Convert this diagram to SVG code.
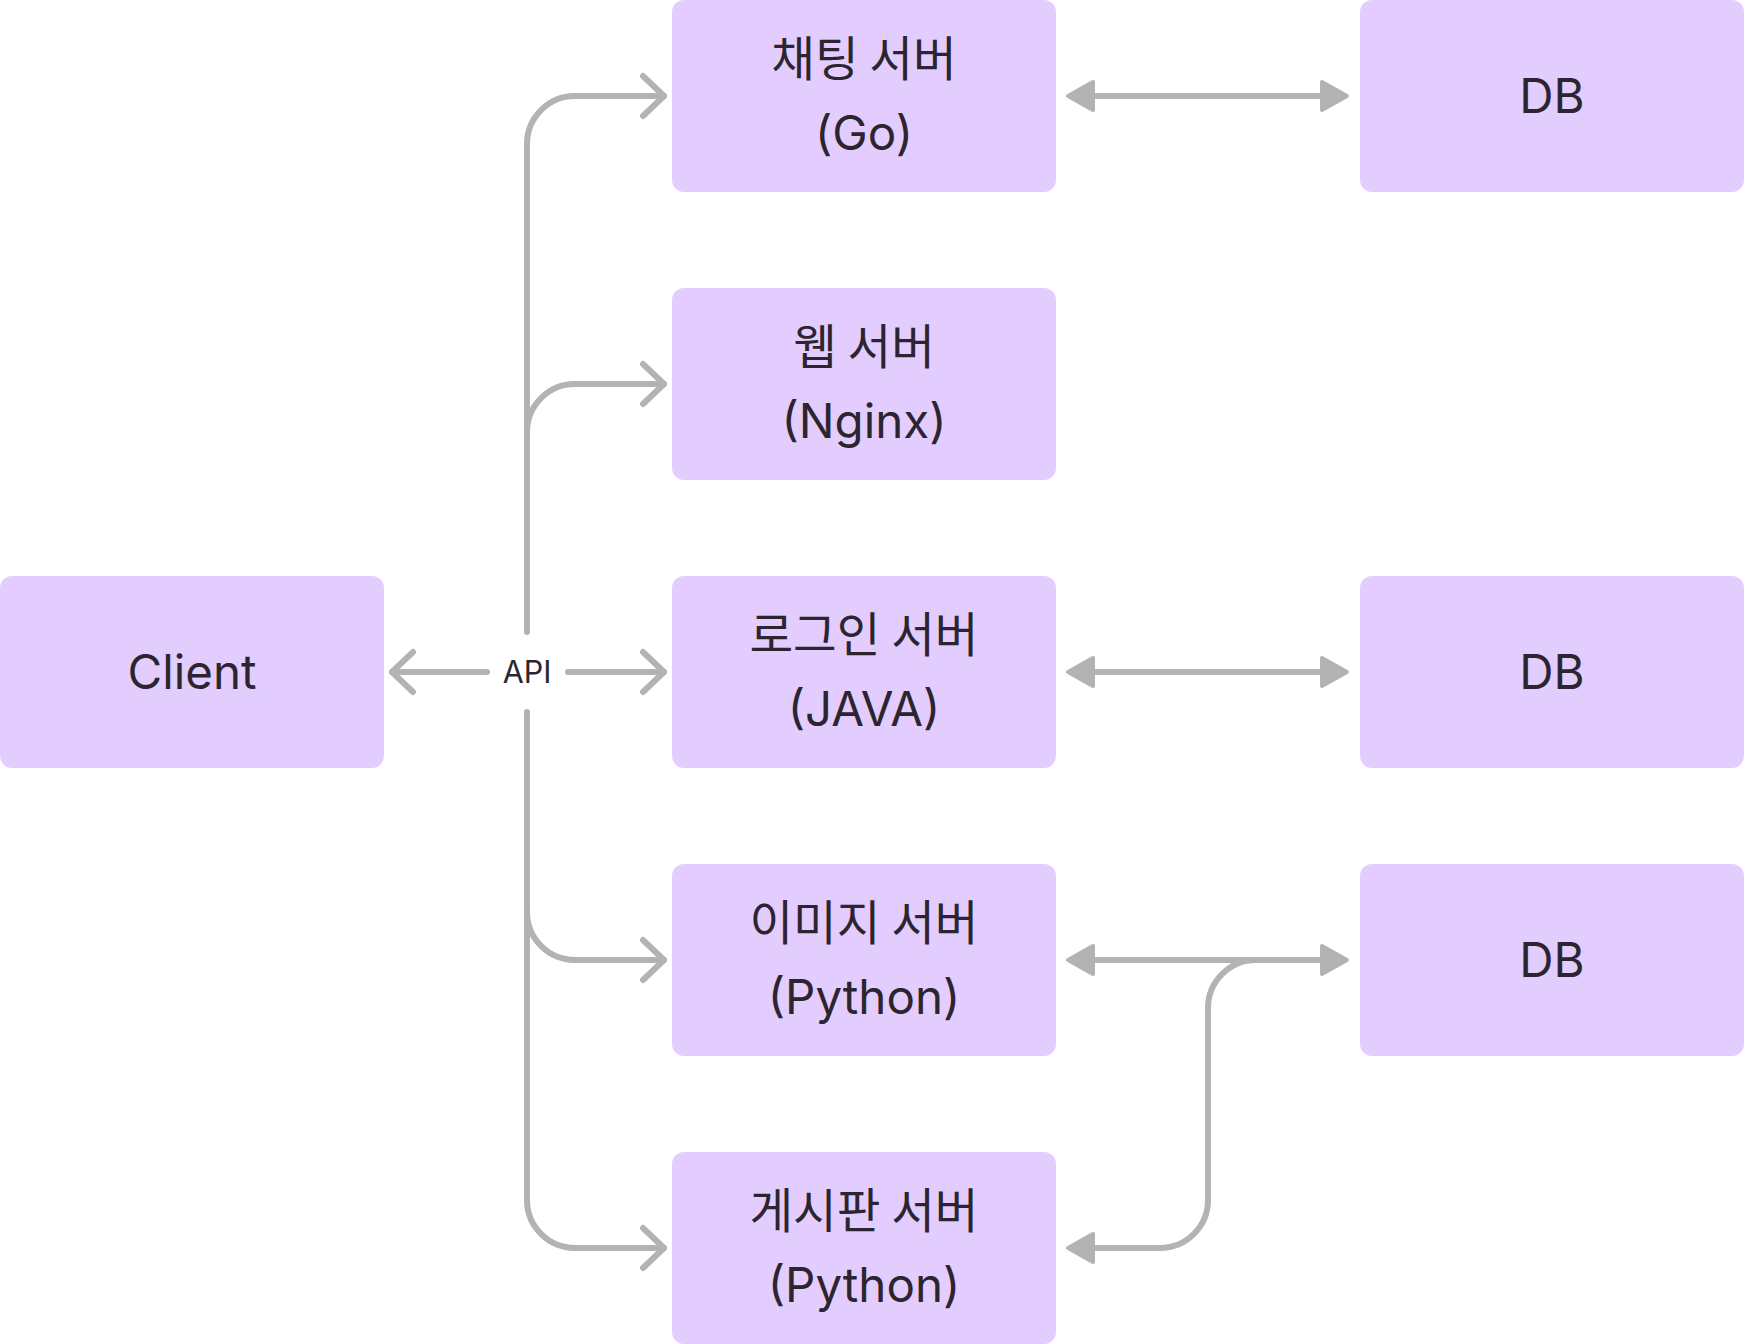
<svg xmlns="http://www.w3.org/2000/svg" width="1744" height="1344" viewBox="0 0 1744 1344">
<style>
.box{fill:#E3CCFE}
.t{font-family:Inter,"Noto Sans CJK KR",sans-serif;font-size:47.5px;fill:#2C2530;text-anchor:middle}
.k{font-family:"Noto Sans CJK KR",Inter,sans-serif}
.lbl{font-family:Inter,"Noto Sans CJK KR",sans-serif;font-size:30.5px;fill:#2C2530;text-anchor:middle}
.c{fill:none;stroke:#B3B3B3;stroke-width:6;stroke-linecap:round;stroke-linejoin:round}
</style>
<defs>
<marker id="chev" markerUnits="userSpaceOnUse" viewBox="-30 -30 40 60" markerWidth="40" markerHeight="60" refX="0" refY="0" orient="auto" overflow="visible">
<path d="M-21,-20 L0,0 L-21,20" fill="none" stroke="#B3B3B3" stroke-width="6" stroke-linecap="round" stroke-linejoin="round"/>
</marker>
<marker id="tri" markerUnits="userSpaceOnUse" viewBox="-10 -20 40 40" markerWidth="40" markerHeight="40" refX="0" refY="0" orient="auto-start-reverse" overflow="visible">
<path d="M-2,-14 L23,0 L-2,14 Z" fill="#B3B3B3" stroke="#B3B3B3" stroke-width="4" stroke-linejoin="round"/>
</marker>
</defs>
<rect width="1744" height="1344" fill="#FFFFFF"/>
<g id="connectors">
<path class="c" d="M527,632 V144 A48,48 0 0 1 575,96 H664" marker-end="url(#chev)"/>
<path class="c" d="M527,432 A48,48 0 0 1 575,384 H664" marker-end="url(#chev)"/>
<path class="c" d="M527,712 V1200 A48,48 0 0 0 575,1248 H664" marker-end="url(#chev)"/>
<path class="c" d="M527,912 A48,48 0 0 0 575,960 H664" marker-end="url(#chev)"/>
<path class="c" d="M487,672 H392" marker-end="url(#chev)"/>
<path class="c" d="M568,672 H664" marker-end="url(#chev)"/>
<text class="lbl" x="527" y="683">API</text>
<path class="c" style="stroke-linecap:butt" d="M1091,96 H1324" marker-start="url(#tri)" marker-end="url(#tri)"/>
<path class="c" style="stroke-linecap:butt" d="M1091,672 H1324" marker-start="url(#tri)" marker-end="url(#tri)"/>
<path class="c" style="stroke-linecap:butt" d="M1091,960 H1324" marker-start="url(#tri)" marker-end="url(#tri)"/>
<path class="c" style="stroke-linecap:butt" d="M1324,960 H1256 A48,48 0 0 0 1208,1008 V1200 A48,48 0 0 1 1160,1248 H1091" marker-end="url(#tri)"/>
</g>
<g id="client">
<rect class="box" x="0" y="576" width="384" height="192" rx="12"/>
<text class="t" x="192" y="689">Client</text>
</g>
<g id="chat-server">
<rect class="box" x="672" y="0" width="384" height="192" rx="12"/>
<text class="t k" x="864" y="76">채팅 서버</text>
<text class="t" x="864" y="150">(Go)</text>
</g>
<g id="web-server">
<rect class="box" x="672" y="288" width="384" height="192" rx="12"/>
<text class="t k" x="864" y="364">웹 서버</text>
<text class="t" x="864" y="438">(Nginx)</text>
</g>
<g id="login-server">
<rect class="box" x="672" y="576" width="384" height="192" rx="12"/>
<text class="t k" x="864" y="652">로그인 서버</text>
<text class="t" x="864" y="726">(JAVA)</text>
</g>
<g id="image-server">
<rect class="box" x="672" y="864" width="384" height="192" rx="12"/>
<text class="t k" x="864" y="940">이미지 서버</text>
<text class="t" x="864" y="1014">(Python)</text>
</g>
<g id="board-server">
<rect class="box" x="672" y="1152" width="384" height="192" rx="12"/>
<text class="t k" x="864" y="1228">게시판 서버</text>
<text class="t" x="864" y="1302">(Python)</text>
</g>
<g id="db-chat">
<rect class="box" x="1360" y="0" width="384" height="192" rx="12"/>
<text class="t" x="1552" y="113">DB</text>
</g>
<g id="db-login">
<rect class="box" x="1360" y="576" width="384" height="192" rx="12"/>
<text class="t" x="1552" y="689">DB</text>
</g>
<g id="db-image">
<rect class="box" x="1360" y="864" width="384" height="192" rx="12"/>
<text class="t" x="1552" y="977">DB</text>
</g>
</svg>
